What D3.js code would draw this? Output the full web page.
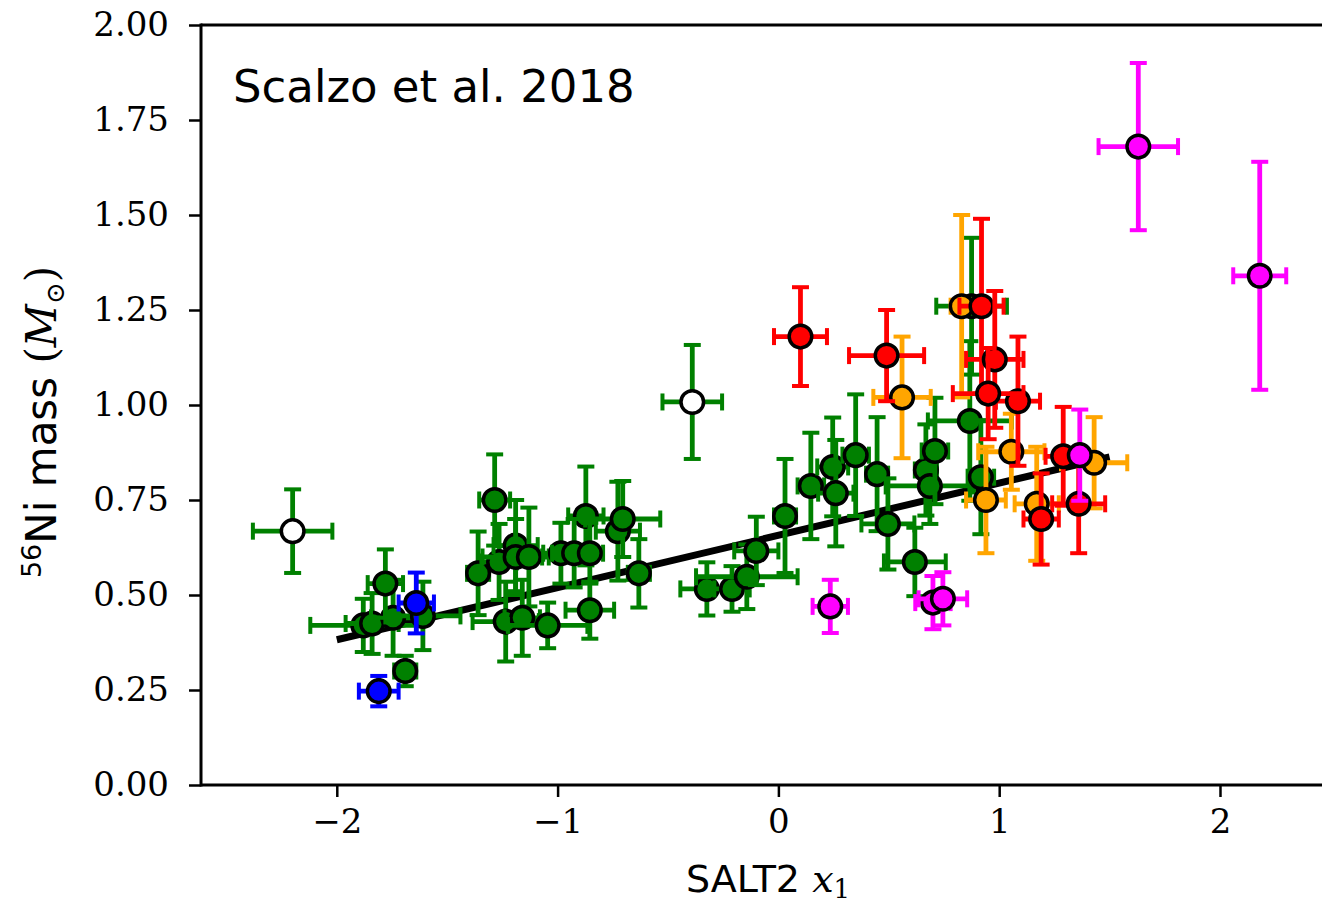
<!DOCTYPE html>
<html>
<head>
<meta charset="utf-8">
<script src="https://cdn.jsdelivr.net/npm/d3@7"></script>
<style>
body { margin: 0; background: #fff; }
</style>
</head>
<body>
<script>
// each row: [x1, Ni mass, x1 error, mass error]
var greenPoints = [
	[-1.88, 0.42, 0.24, 0.07], [-1.84, 0.425, 0.12, 0.08], [-1.745, 0.44, 0.10, 0.10],
	[-1.78, 0.53, 0.08, 0.09], [-1.69, 0.30, 0.05, 0.04], [-1.61, 0.445, 0.17, 0.09],
	[-1.36, 0.557, 0.05, 0.11], [-1.285, 0.75, 0.07, 0.12], [-1.265, 0.587, 0.08, 0.10],
	[-1.19, 0.63, 0.10, 0.12], [-1.19, 0.60, 0.15, 0.10], [-1.13, 0.60, 0.06, 0.13],
	[-1.235, 0.43, 0.15, 0.105], [-1.16, 0.44, 0.08, 0.10], [-1.045, 0.42, 0.18, 0.06],
	[-0.872, 0.708, 0.08, 0.13], [-0.985, 0.61, 0.08, 0.08], [-0.925, 0.61, 0.10, 0.09],
	[-0.854, 0.61, 0.06, 0.08], [-0.854, 0.46, 0.11, 0.075], [-0.727, 0.668, 0.10, 0.13],
	[-0.705, 0.70, 0.17, 0.10], [-0.632, 0.557, 0.05, 0.09], [-0.324, 0.516, 0.12, 0.07],
	[-0.21, 0.516, 0.08, 0.06], [-0.143, 0.548, 0.23, 0.085], [-0.10, 0.616, 0.10, 0.09],
	[0.03, 0.708, 0.05, 0.15], [0.147, 0.787, 0.06, 0.14], [0.246, 0.837, 0.07, 0.13],
	[0.26, 0.768, 0.08, 0.14], [0.35, 0.868, 0.06, 0.16], [0.447, 0.818, 0.05, 0.15],
	[0.496, 0.687, 0.12, 0.12], [0.618, 0.587, 0.14, 0.09], [0.668, 0.829, 0.05, 0.12],
	[0.686, 0.787, 0.20, 0.10], [0.709, 0.879, 0.06, 0.14], [0.867, 0.958, 0.19, 0.21],
	[0.917, 0.81, 0.06, 0.15], [0.875, 1.26, 0.16, 0.18]
];
var openPoints = [[-2.20, 0.668, 0.18, 0.11], [-0.39, 1.008, 0.135, 0.15]];
var bluePoints = [[-1.81, 0.247, 0.09, 0.04], [-1.64, 0.479, 0.08, 0.08]];
var orangePoints = [
	[0.83, 1.26, 0.05, 0.24], [0.56, 1.02, 0.13, 0.16], [1.055, 0.877, 0.15, 0.10],
	[0.94, 0.75, 0.09, 0.14], [1.17, 0.74, 0.10, 0.15], [1.43, 0.848, 0.15, 0.12]
];
var redPoints = [
	[0.10, 1.18, 0.12, 0.13], [0.49, 1.13, 0.17, 0.12], [0.92, 1.26, 0.10, 0.23],
	[0.98, 1.12, 0.13, 0.18], [1.085, 1.01, 0.10, 0.17], [0.95, 1.03, 0.16, 0.12],
	[1.29, 0.865, 0.08, 0.13], [1.36, 0.74, 0.12, 0.13], [1.19, 0.70, 0.08, 0.12]
];
var magentaPoints = [
	[1.63, 1.68, 0.18, 0.22], [2.18, 1.34, 0.12, 0.30], [0.235, 0.47, 0.08, 0.07],
	[0.70, 0.48, 0.08, 0.07], [0.745, 0.49, 0.11, 0.07], [1.365, 0.868, 0.03, 0.12]
];
var fitIntercept = 0.657, fitSlope = 0.1374, fitRange = [-2, 1.5];
var xTicks = [-2, -1, 0, 1, 2];
var yTicks = [0, 0.25, 0.5, 0.75, 1, 1.25, 1.5, 1.75, 2];

var W = 1322, H = 909;
var padL = 201, padR = 1322, padT = 25, padB = 785;

var svg = d3.select("body").append("svg").attr("width", W).attr("height", H);

var x = d3.scaleLinear().domain([-2.615, 2.462]).range([padL, padR]);
var y = d3.scaleLinear().domain([0, 2]).range([padB, padT]);

// fit line goes under the points
svg.append("line")
	.attr("x1", x(fitRange[0])).attr("y1", y(fitIntercept + fitSlope * fitRange[0]))
	.attr("x2", x(fitRange[1])).attr("y2", y(fitIntercept + fitSlope * fitRange[1]))
	.attr("stroke", "#000").attr("stroke-width", 7);

function drawGroup(rows, barColor, fill){
	var g = svg.append("g");
	var cap = 8.5;
	rows.forEach(function(d){
		var cx = x(d[0]), cy = y(d[1]);
		var x0 = x(d[0] - d[2]), x1 = x(d[0] + d[2]);
		var y0 = y(d[1] - d[3]), y1 = y(d[1] + d[3]);
		var e = g.append("g").attr("stroke", barColor).attr("stroke-width", 4.8);
		e.append("line").attr("x1", x0).attr("x2", x1).attr("y1", cy).attr("y2", cy);
		e.append("line").attr("x1", cx).attr("x2", cx).attr("y1", y0).attr("y2", y1);
		[x0, x1].forEach(function(px){
			e.append("line").attr("x1", px).attr("x2", px).attr("y1", cy - cap).attr("y2", cy + cap).attr("stroke-width", 4);
		});
		[y0, y1].forEach(function(py){
			e.append("line").attr("x1", cx - cap).attr("x2", cx + cap).attr("y1", py).attr("y2", py).attr("stroke-width", 4);
		});
		g.append("circle").attr("cx", cx).attr("cy", cy).attr("r", 11.3)
			.attr("fill", fill).attr("stroke", "#000").attr("stroke-width", 3.5);
	});
}

drawGroup(greenPoints, "#008000", "#008000");
drawGroup(openPoints, "#008000", "#ffffff");
drawGroup(bluePoints, "#0000ff", "#0000ff");
drawGroup(orangePoints, "#ffa500", "#ffa500");
drawGroup(redPoints, "#ff0000", "#ff0000");
drawGroup(magentaPoints, "#ff00ff", "#ff00ff");

// axes
var xAxis = d3.axisBottom(x).tickValues(xTicks).tickSize(12).tickPadding(12).tickFormat(d3.format("d"));
var yAxis = d3.axisLeft(y).tickValues(yTicks).tickSize(12).tickPadding(20).tickFormat(d3.format(".2f"));

var gx = svg.append("g").attr("transform", "translate(0," + padB + ")").call(xAxis);
var gy = svg.append("g").attr("transform", "translate(" + padL + ",0)").call(yAxis);
[gx, gy].forEach(function(a){
	a.select(".domain").remove();
	a.selectAll(".tick line").attr("stroke", "#000").attr("stroke-width", 2.5);
	a.selectAll(".tick text").attr("fill", "#000")
		.style("font-family", "'DejaVu Serif', serif").style("font-size", "34px");
});

// spines
svg.append("line").attr("x1", padL).attr("x2", padR).attr("y1", padB).attr("y2", padB).attr("stroke", "#000").attr("stroke-width", 3);
svg.append("line").attr("x1", padL).attr("x2", padR).attr("y1", padT).attr("y2", padT).attr("stroke", "#000").attr("stroke-width", 3);
svg.append("line").attr("x1", padL).attr("x2", padL).attr("y1", padT - 1.5).attr("y2", padB + 1.5).attr("stroke", "#000").attr("stroke-width", 3);

// annotation
svg.append("text").attr("x", 233).attr("y", 102)
	.style("font-family", "'DejaVu Sans', sans-serif").style("font-size", "45px")
	.text("Scalzo et al. 2018");

// x label
var xl = svg.append("text").attr("x", 768).attr("y", 892).attr("text-anchor", "middle")
	.style("font-family", "'DejaVu Sans', sans-serif").style("font-size", "38px");
xl.append("tspan").text("SALT2 ");
xl.append("tspan").style("font-family", "'DejaVu Serif', serif").style("font-style", "italic").text("x");
xl.append("tspan").attr("dy", 6).style("font-family", "'DejaVu Serif', serif").style("font-size", "26px").text("1");

// y label
var yl = svg.append("text").attr("transform", "translate(56,422) rotate(-90)").attr("text-anchor", "middle")
	.style("font-family", "'DejaVu Sans', sans-serif").style("font-size", "42px");
yl.append("tspan").attr("dy", -15).style("font-size", "27px").text("56");
yl.append("tspan").attr("dy", 15).text("Ni mass ");
yl.append("tspan").style("font-family", "'DejaVu Serif', serif").text("(");
yl.append("tspan").style("font-family", "'DejaVu Serif', serif").style("font-style", "italic").text("M");
yl.append("tspan").attr("dy", 8).style("font-family", "'DejaVu Serif', serif").style("font-size", "26px").text("⊙");
yl.append("tspan").attr("dy", -8).style("font-family", "'DejaVu Serif', serif").text(")");
</script>
</body>
</html>
